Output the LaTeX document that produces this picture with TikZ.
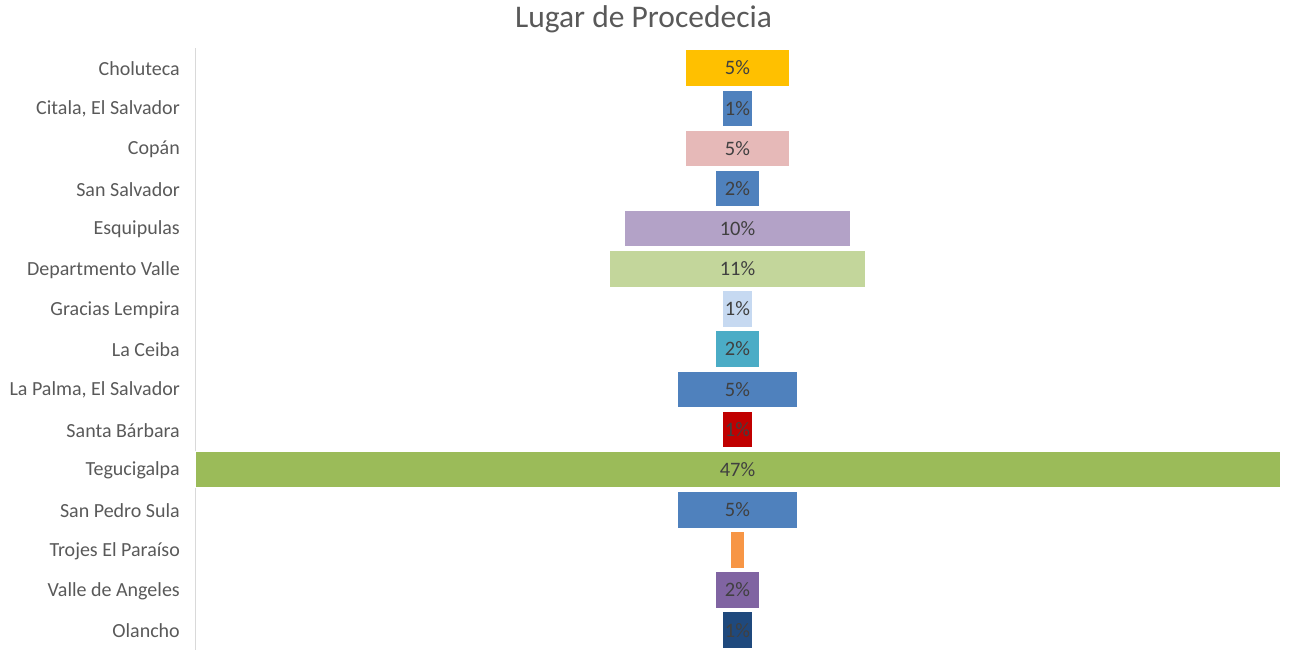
\documentclass[tikz,border=0pt]{standalone}
\usepackage{fontspec}
\setmainfont{Carlito}
\definecolor{txtgray}{HTML}{595959}
\definecolor{valgray}{HTML}{404040}
\definecolor{axisgray}{HTML}{D9D9D9}
\definecolor{cA}{HTML}{FFC000}
\definecolor{cB}{HTML}{4F81BD}
\definecolor{cC}{HTML}{E6B9B8}
\definecolor{cD}{HTML}{B3A2C7}
\definecolor{cE}{HTML}{C3D69B}
\definecolor{cF}{HTML}{C6D9F1}
\definecolor{cG}{HTML}{4BACC6}
\definecolor{cH}{HTML}{C00000}
\definecolor{cI}{HTML}{9BBB59}
\definecolor{cJ}{HTML}{F79646}
\definecolor{cK}{HTML}{8064A2}
\definecolor{cL}{HTML}{1F497D}
\tikzset{
  barbox/.style={draw=white, line width=0.8pt, inner sep=0pt, minimum height=36.5pt,
    font=\fontsize{20.5}{20.5}\selectfont, text=valgray, anchor=center},
  catlabel/.style={anchor=east, inner sep=0pt, font=\fontsize{20}{20}\selectfont, text=txtgray},
  titlebox/.style={inner sep=0pt, font=\fontsize{31.5}{31.5}\selectfont, text=txtgray}
}
\begin{document}
\begin{tikzpicture}[x=1pt,y=-1pt]
\useasboundingbox (0,0) rectangle (1290,656);
\node[titlebox] (title) at (643.5,19) {Lugar de Procedecia};
\coordinate (axtop) at (195,48);
\coordinate (axbot) at (195,650);
\draw[axisgray, line width=1pt] (axtop) -- (axbot);
\foreach \i/\name/\hw/\col/\val in {
  0/Choluteca/52/cA/5\%,
  1/{Citala, El Salvador}/14.7/cB/1\%,
  2/Copán/52/cC/5\%,
  3/San Salvador/22.3/cB/2\%,
  4/Esquipulas/113/cD/10\%,
  5/Departmento Valle/128.2/cE/11\%,
  6/Gracias Lempira/14.7/cF/1\%,
  7/La Ceiba/22.3/cG/2\%,
  8/{La Palma, El Salvador}/59.7/cB/5\%,
  9/Santa Bárbara/14.7/cH/1\%,
  10/Tegucigalpa/542.5/cI/47\%,
  11/San Pedro Sula/59.7/cB/5\%,
  12/Trojes El Paraíso/7.2/cJ/{},
  13/Valle de Angeles/22.3/cK/2\%,
  14/Olancho/14.7/cL/1\%}
{
  \pgfmathsetmacro{\yy}{68+40.15*\i}
  \node[catlabel] (l\i) at (180,\yy+1) {\name};
  \node[barbox, fill=\col, minimum width=2*\hw pt] (b\i) at (737.5,\yy) {\val};
}
\end{tikzpicture}
\end{document}
